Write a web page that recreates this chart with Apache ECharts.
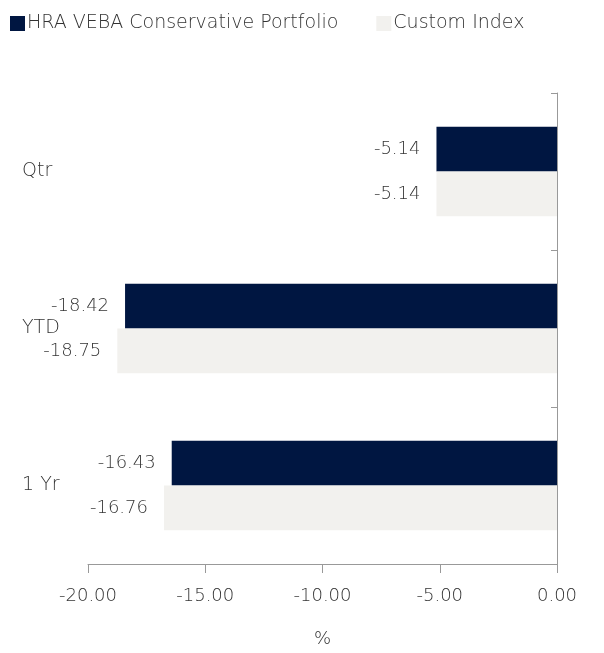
<!DOCTYPE html>
<html><head><meta charset="utf-8">
<script src="https://cdn.jsdelivr.net/npm/echarts@6/dist/echarts.min.js"></script>
<style>html,body{margin:0;padding:0;background:#fff;overflow:hidden}#c{width:604px;height:653px}</style>
</head><body><div id="c"></div>
<script>
const categories = ['Qtr', 'YTD', '1 Yr'];
const seriesNames = ['HRA VEBA Conservative Portfolio', 'Custom Index'];
const portfolioValues = [-5.14, -18.42, -16.43];
const indexValues = [-5.14, -18.75, -16.76];
const xTicks = [-20, -15, -10, -5, 0];

const FONT = 'DejaVu Sans';
const FW = 200;
const TXT = '#333333';
const chart = echarts.init(document.getElementById('c'));
chart.setOption({
  animation: false,
  textStyle: { fontFamily: FONT, fontWeight: FW, color: TXT },
  legend: {
    left: 5, top: 9,
    icon: 'rect', itemWidth: 15, itemHeight: 15, itemGap: 38,
    textStyle: { fontFamily: FONT, fontWeight: FW, fontSize: 19, color: TXT, padding: [0,0,0,-3] },
    data: seriesNames
  },
  grid: { left: 88, right: 47, top: 93, bottom: 82, containLabel: false },
  xAxis: {
    type: 'value', min: xTicks[0], max: xTicks[xTicks.length-1], interval: 5,
    name: '%', nameLocation: 'middle', nameGap: 66,
    nameTextStyle: { fontFamily: FONT, fontWeight: FW, fontSize: 18, color: TXT },
    axisLine: { show: true, onZero: false, lineStyle: { color: '#999999', width: 1 } },
    axisTick: { show: true, length: 9, lineStyle: { color: '#999999' } },
    axisLabel: { margin: 23, fontFamily: FONT, fontWeight: FW, fontSize: 18, color: TXT,
      formatter: v => v.toFixed(2) },
    splitLine: { show: false }
  },
  yAxis: [
    { type: 'category', data: categories, inverse: true, position: 'right',
      axisLine: { show: true, onZero: false, lineStyle: { color: '#999999', width: 1 } },
      axisTick: { show: true, inside: true, length: 6, lineStyle: { color: '#999999' } },
      axisLabel: { show: false }, splitLine: { show: false } },
    { type: 'category', data: categories, inverse: true, position: 'left',
      axisLine: { show: false }, axisTick: { show: false },
      axisLabel: { show: true, align: 'left', margin: 66, fontFamily: FONT, fontWeight: FW, fontSize: 19, color: TXT },
      splitLine: { show: false } }
  ],
  series: [
    { name: seriesNames[0], type: 'bar', yAxisIndex: 0, data: portfolioValues,
      barGap: '0%', barCategoryGap: '43%',
      itemStyle: { color: '#001641' },
      label: { show: true, position: 'left', distance: 16, fontFamily: FONT, fontWeight: FW, fontSize: 18, color: TXT,
        formatter: p => p.value.toFixed(2) } },
    { name: seriesNames[1], type: 'bar', yAxisIndex: 0, data: indexValues,
      barGap: '0%', barCategoryGap: '43%',
      itemStyle: { color: '#f2f1ee' },
      label: { show: true, position: 'left', distance: 16, fontFamily: FONT, fontWeight: FW, fontSize: 18, color: TXT,
        formatter: p => p.value.toFixed(2) } }
  ]
});
</script></body></html>
